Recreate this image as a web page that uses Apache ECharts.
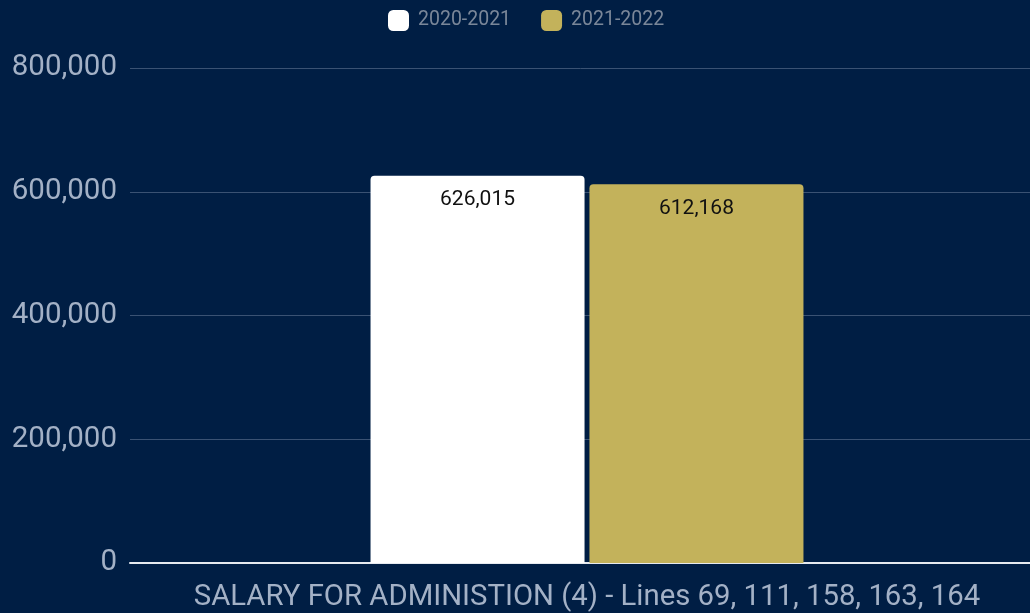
<!DOCTYPE html>
<html>
<head>
<meta charset="utf-8">
<script src="https://cdn.jsdelivr.net/npm/echarts@6/dist/echarts.min.js"></script>
<style>
  html, body { margin: 0; padding: 0; background: #001E44; }
  #chart { width: 1030px; height: 613px; }
</style>
</head>
<body>
<div id="chart"></div>
<script>
var categories = ['SALARY FOR ADMINISTION (4) - Lines 69, 111, 158, 163, 164'];
var seriesNames = ['2020-2021', '2021-2022'];
var values2021 = [626015];
var values2022 = [612168];
var yTicks = [0, 200000, 400000, 600000, 800000];

var myChart = echarts.init(document.getElementById('chart'));

function fmt(v) {
    return v.toLocaleString('en-US');
}

myChart.setOption({
    backgroundColor: '#001E44',
    textStyle: { fontFamily: 'Roboto' },
    legend: {
        left: 383,
        top: 5,
        itemWidth: 21,
        itemHeight: 21,
        itemGap: 30,
        icon: 'roundRect',
        textStyle: { color: '#7A8799', fontSize: 19.5, fontFamily: 'Roboto', padding: [0, 0, 0, 4] },
        data: seriesNames
    },
    grid: {
        left: 130,
        width: 914,
        top: 68,
        bottom: 50,
        containLabel: false,
        outerBoundsMode: 'none'
    },
    xAxis: {
        type: 'category',
        data: categories,
        axisTick: { show: false },
        axisLine: { lineStyle: { color: '#E6EAF0', width: 2 } },
        axisLabel: { color: '#A3B1C6', fontSize: 29.3, margin: 20, fontFamily: 'Roboto' }
    },
    yAxis: {
        type: 'value',
        min: yTicks[0],
        max: yTicks[yTicks.length - 1],
        interval: 200000,
        axisLine: { show: false },
        axisTick: { show: false },
        splitLine: { lineStyle: { color: '#3A5273', width: 1 } },
        axisLabel: {
            color: '#A3B1C6',
            fontSize: 29.5,
            margin: 13,
            fontFamily: 'Roboto',
            formatter: function (v) { return fmt(v); }
        }
    },
    series: [{
        name: seriesNames[0],
        type: 'bar',
        data: values2021,
        barWidth: 214,
        barGap: '2.3%',
        itemStyle: { color: '#FFFFFF', borderRadius: [4, 4, 0, 0] },
        label: {
            show: true,
            position: 'insideTop',
            distance: 14,
            color: '#111111',
            fontSize: 21,
            fontFamily: 'Roboto',
            formatter: function (p) { return fmt(p.value); }
        }
    }, {
        name: seriesNames[1],
        type: 'bar',
        data: values2022,
        barWidth: 214,
        itemStyle: { color: '#C3B25B', borderRadius: [4, 4, 0, 0] },
        label: {
            show: true,
            position: 'insideTop',
            distance: 14,
            color: '#111111',
            fontSize: 21,
            fontFamily: 'Roboto',
            formatter: function (p) { return fmt(p.value); }
        }
    }]
});
</script>
</body>
</html>
